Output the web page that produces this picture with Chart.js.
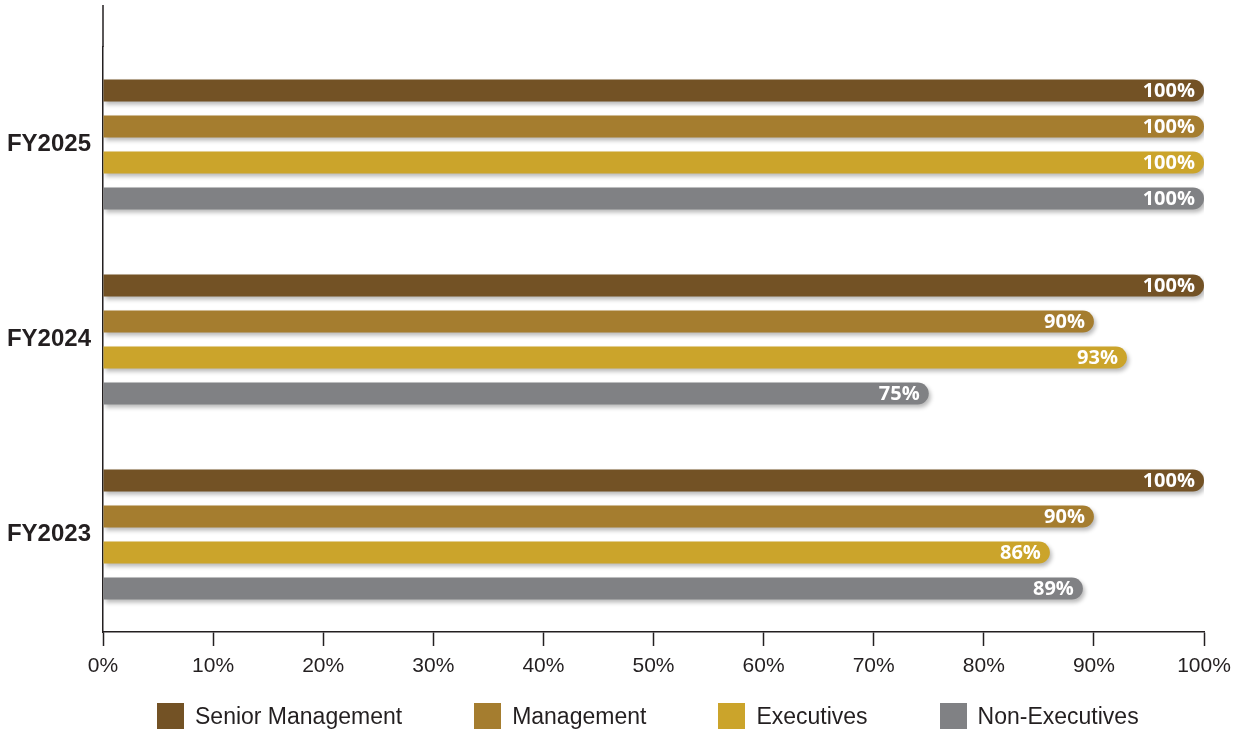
<html>
<head>
<script src="https://cdn.jsdelivr.net/npm/chart.js@4.4.1/dist/chart.umd.min.js"></script>
<style>
  body { margin: 0; background: #fff; }
  #wrap { width: 1247px; height: 733px; position: relative; }
  #legend {
    position: absolute; left: 157px; top: 703px;
    display: flex; gap: 72px;
    font-family: "Liberation Sans", Arial, sans-serif; font-size: 23px; color: #231f20;
  }
  #legend .item { display: flex; align-items: center; height: 26px; }
  #legend .box { width: 27px; height: 26px; margin-right: 11px; }
</style>
</head>
<body>
<div id="wrap">
<canvas id="chart"></canvas>
<div id="legend"></div>
</div>
<script>
// values
var years = ['FY2025', 'FY2024', 'FY2023'];
var seniorMgmt = [100, 100, 100];
var management = [100, 90, 90];
var executives = [100, 93, 86];
var nonExecutives = [100, 75, 89];
var xTicks = [0, 10, 20, 30, 40, 50, 60, 70, 80, 90, 100];

var ink = '#231f20';

// white % labels at the end of each bar, plus a soft drop shadow
var barDecor = {
  id: 'barDecor',
  beforeDatasetsDraw: function(chart) {
    var ctx = chart.ctx;
    ctx.save();
    ctx.shadowColor = 'rgba(0,0,0,0.28)';
    ctx.shadowBlur = 4;
    ctx.shadowOffsetX = 2;
    ctx.shadowOffsetY = 3;
  },
  afterDatasetsDraw: function(chart) {
    var ctx = chart.ctx;
    ctx.restore();
    ctx.save();
    ctx.font = 'bold 20px "Open Sans"';
    ctx.fillStyle = '#ffffff';
    ctx.textAlign = 'right';
    ctx.textBaseline = 'middle';
    chart.data.datasets.forEach(function(ds, i) {
      chart.getDatasetMeta(i).data.forEach(function(bar, j) {
        ctx.fillText(ds.data[j] + '%', bar.x - 9, bar.y + 1);
      });
    });
    ctx.restore();
  },
  afterDraw: function(chart) {
    // the y axis line runs on above the plot area
    var ctx = chart.ctx, a = chart.chartArea;
    ctx.save();
    ctx.strokeStyle = ink;
    ctx.lineWidth = 1.5;
    ctx.beginPath();
    ctx.moveTo(a.left, a.top - 42);
    ctx.lineTo(a.left, a.top);
    ctx.stroke();
    ctx.restore();
  }
};

// html legend, built from the datasets
var htmlLegend = {
  id: 'htmlLegend',
  afterUpdate: function(chart) {
    var el = document.getElementById('legend');
    el.innerHTML = '';
    chart.data.datasets.forEach(function(d) {
      var item = document.createElement('div');
      item.className = 'item';
      var box = document.createElement('span');
      box.className = 'box';
      box.style.background = d.backgroundColor;
      var txt = document.createElement('span');
      txt.textContent = d.label;
      item.appendChild(box);
      item.appendChild(txt);
      el.appendChild(item);
    });
  }
};

function ds(label, data, color) {
  return {
    label: label,
    data: data,
    backgroundColor: color,
    borderWidth: 0,
    borderRadius: 11,
    categoryPercentage: 0.739,
    barPercentage: 0.611
  };
}

var ctx = document.getElementById('chart').getContext('2d');
var chart = new Chart(ctx, {
  type: 'bar',
  data: {
    labels: years,
    datasets: [
      ds('Senior Management', seniorMgmt, '#735225'),
      ds('Management', management, '#a57d2f'),
      ds('Executives', executives, '#cba42b'),
      ds('Non-Executives', nonExecutives, '#808184')
    ]
  },
  options: {
    indexAxis: 'y',
    responsive: true,
    maintainAspectRatio: false,
    animation: false,
    layout: { padding: { top: 47, left: 0, right: 43, bottom: 41 } },
    scales: {
      x: {
        min: 0,
        max: 100,
        afterBuildTicks: function(scale) {
          scale.ticks = xTicks.map(function(v) { return { value: v }; });
        },
        afterFit: function(scale) { scale.height = 60; },
        grid: {
          display: true,
          drawOnChartArea: false,
          drawTicks: true,
          tickLength: 14,
          tickColor: ink,
          tickWidth: 1.5
        },
        border: { display: true, color: ink, width: 1.5 },
        ticks: {
          padding: 8,
          color: ink,
          font: { family: '"Liberation Sans", Arial, sans-serif', size: 21 },
          callback: function(v) { return v + '%'; }
        }
      },
      y: {
        afterFit: function(scale) { scale.width = 103; },
        grid: { display: false, drawTicks: false },
        border: { display: true, color: ink, width: 1.5 },
        ticks: {
          padding: 12,
          color: ink,
          font: { family: '"Liberation Sans", Arial, sans-serif', size: 24, weight: 'bold' }
        }
      }
    },
    plugins: {
      tooltip: { enabled: false },
      legend: { display: false }
    }
  },
  plugins: [barDecor, htmlLegend]
});
</script>
</body>
</html>
